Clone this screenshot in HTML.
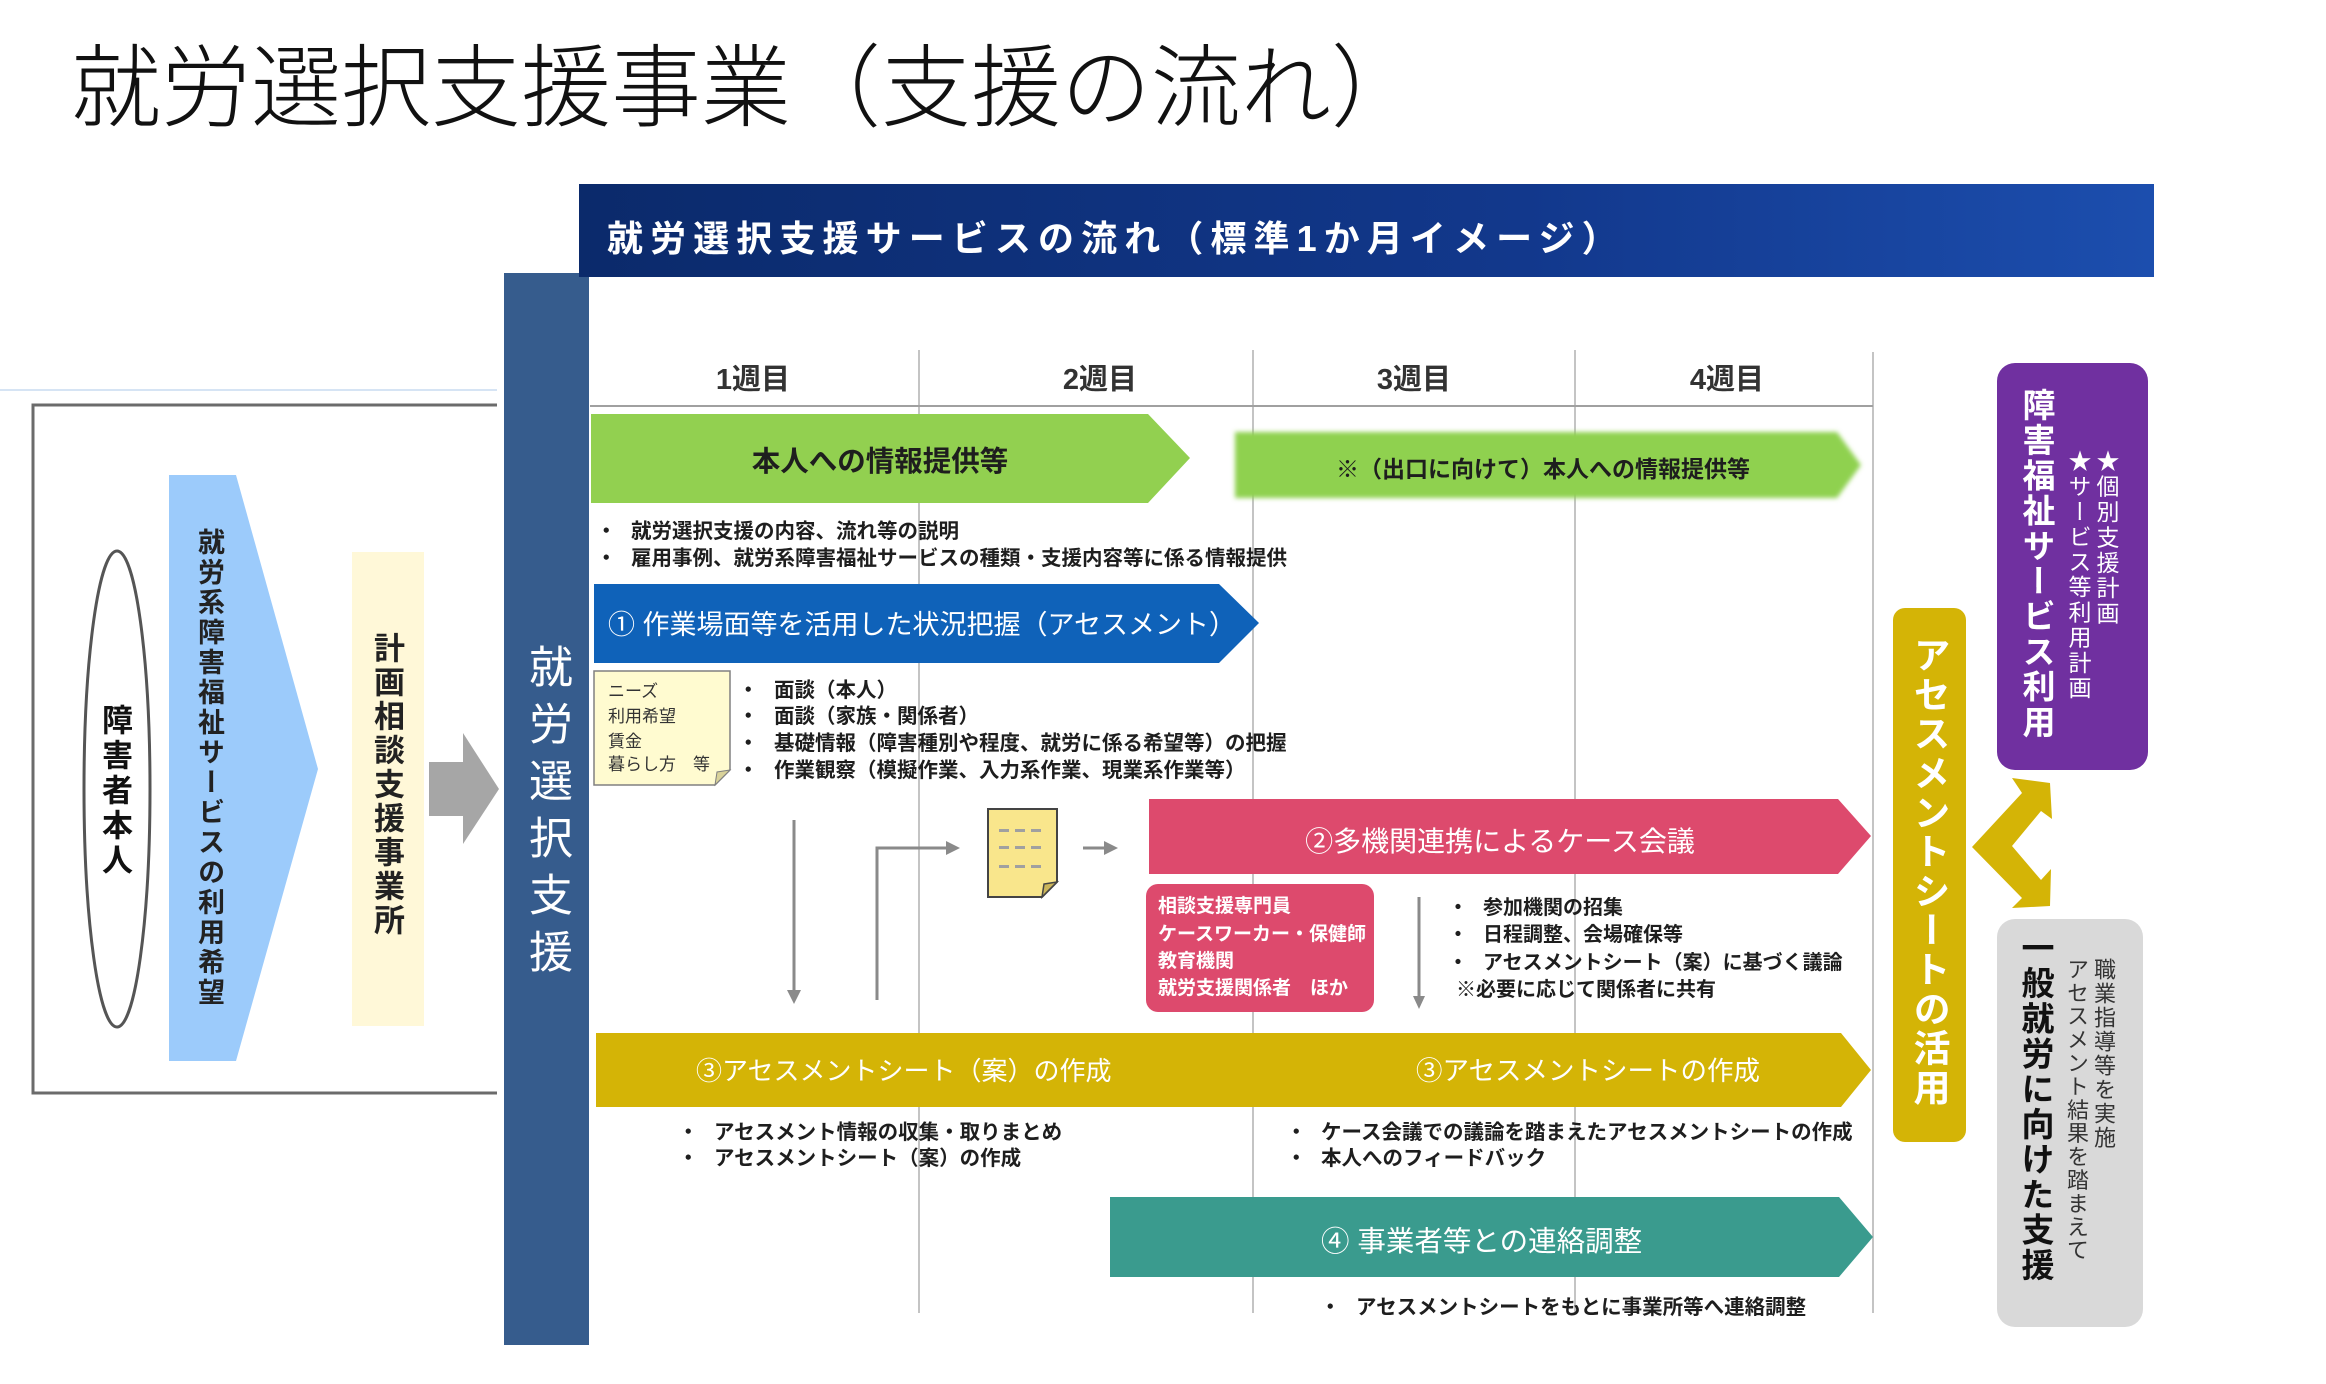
<!DOCTYPE html>
<html lang="ja">
<head>
<meta charset="utf-8">
<style>
  html,body{margin:0;padding:0;background:#fff;}
  body{width:2326px;height:1384px;position:relative;overflow:hidden;
       font-family:"Liberation Sans","Noto Sans CJK JP",sans-serif;}
  svg{position:absolute;left:0;top:0;}
  .t{position:absolute;white-space:nowrap;line-height:1;}
  .v{position:absolute;white-space:nowrap;line-height:1;writing-mode:vertical-rl;text-orientation:mixed;}
  .b{font-weight:bold;}
  .w{color:#fff;}
  .d{color:#1e1e1e;}
</style>
</head>
<body>
<svg width="2326" height="1384" viewBox="0 0 2326 1384" xmlns="http://www.w3.org/2000/svg">
  <defs>
    <linearGradient id="hdr" x1="0" y1="0" x2="1" y2="0">
      <stop offset="0" stop-color="#0b2a6b"/>
      <stop offset="0.6" stop-color="#12388c"/>
      <stop offset="1" stop-color="#1c4eae"/>
    </linearGradient>
    <filter id="blur" x="-5%" y="-30%" width="110%" height="160%">
      <feGaussianBlur stdDeviation="2.5"/>
    </filter>
  </defs>

  <!-- left section -->
  <line x1="0" y1="390" x2="497" y2="390" stroke="#d6e4f4" stroke-width="2"/>
  <polyline points="497,405 33,405 33,1093 497,1093" fill="none" stroke="#6b6b6b" stroke-width="3"/>
  <ellipse cx="117" cy="789" rx="33" ry="238" fill="#fff" stroke="#555" stroke-width="3"/>
  <polygon points="169,475 236,475 318,769 236,1061 169,1061" fill="#9ccbfb"/>
  <rect x="352" y="552" width="72" height="474" fill="#fff8d8"/>
  <polygon points="429,762 463,762 463,733 499,789 463,844 463,816 429,816" fill="#a6a6a6"/>

  <!-- left bar -->
  <rect x="504" y="273" width="85" height="1072" fill="#365c8d"/>
  <!-- header -->
  <rect x="579" y="184" width="1575" height="93" fill="url(#hdr)"/>

  <!-- grid lines -->
  <g stroke="#b0b0b0" stroke-width="1.5">
    <line x1="919" y1="350" x2="919" y2="1313"/>
    <line x1="1253" y1="350" x2="1253" y2="1313"/>
    <line x1="1575" y1="350" x2="1575" y2="1313"/>
    <line x1="1873" y1="352" x2="1873" y2="1313"/>
  </g>
  <line x1="590" y1="406" x2="1873" y2="406" stroke="#a0a0a0" stroke-width="2"/>

  <!-- green arrows -->
  <polygon points="591,414 1148,414 1190,458 1148,503 591,503" fill="#92d050"/>
  <polygon points="1235,432 1837,432 1861,465 1837,498 1235,498" fill="#8fd14f" filter="url(#blur)"/>

  <!-- blue arrow -->
  <polygon points="594,584 1219,584 1259,623 1219,663 594,663" fill="#0f62b9"/>

  <!-- note box -->
  <path d="M594,671 H730 V770 L715,785 H594 Z" fill="#fffbd0" stroke="#808080" stroke-width="1.5"/>
  <path d="M730,770 L717,772 L715,785 Z" fill="#d9d29a" stroke="#808080" stroke-width="1"/>

  <!-- connectors -->
  <g stroke="#8a8a8a" stroke-width="3" fill="none">
    <line x1="794" y1="820" x2="794" y2="992"/>
    <polyline points="877,1000 877,848 948,848"/>
    <line x1="1083" y1="848" x2="1106" y2="848"/>
    <line x1="1419" y1="897" x2="1419" y2="998"/>
  </g>
  <g fill="#8a8a8a">
    <polygon points="787,990 801,990 794,1004"/>
    <polygon points="946,841 946,855 960,848"/>
    <polygon points="1104,841 1104,855 1118,848"/>
    <polygon points="1413,996 1425,996 1419,1009"/>
  </g>

  <!-- document icon -->
  <path d="M988,809 H1057 V882 L1042,897 H988 Z" fill="#f9e68c" stroke="#444" stroke-width="2"/>
  <path d="M1057,882 L1044,884 L1042,897 Z" fill="#cbb55a" stroke="#444" stroke-width="1.5"/>
  <g fill="#a0a0a0">
    <rect x="999" y="829" width="10" height="3"/><rect x="1015" y="829" width="10" height="3"/><rect x="1031" y="829" width="10" height="3"/>
    <rect x="999" y="846" width="10" height="3"/><rect x="1015" y="846" width="10" height="3"/><rect x="1031" y="846" width="10" height="3"/>
    <rect x="999" y="865" width="10" height="3"/><rect x="1015" y="865" width="10" height="3"/><rect x="1031" y="865" width="10" height="3"/>
  </g>

  <!-- pink -->
  <polygon points="1149,799 1838,799 1871,836 1838,874 1149,874" fill="#dd4a6d"/>
  <rect x="1146" y="884" width="228" height="128" rx="12" ry="12" fill="#dd4a6d"/>

  <!-- yellow -->
  <polygon points="596,1033 1841,1033 1871,1070 1841,1107 596,1107" fill="#d4b406"/>

  <!-- teal -->
  <polygon points="1110,1197 1839,1197 1873,1237 1839,1277 1110,1277" fill="#3a9b8e"/>

  <!-- right side -->
  <rect x="1893" y="608" width="73" height="534" rx="12" ry="12" fill="#d4b406"/>
  <rect x="1997" y="363" width="151" height="407" rx="18" ry="18" fill="#7030a0"/>
  <rect x="1997" y="919" width="146" height="408" rx="18" ry="18" fill="#d9d9d9"/>
  <polygon points="1972,847 2022,793 2012,778 2050,783 2052,819 2041,811 2012,846 2041,880 2051,869 2050,906 2012,908 2022,898" fill="#d4b406"/>
</svg>

<!-- Title -->
<div class="t" style="left:71px;top:44px;font-size:90px;font-weight:300;color:#111;">就労選択支援事業（支援の流れ）</div>

<!-- Header text -->
<div class="t b w" style="left:607px;top:221px;font-size:36px;letter-spacing:7.1px;">就労選択支援サービスの流れ（標準1か月イメージ）</div>

<!-- Left vertical texts -->
<div class="v b" style="left:99px;top:704px;font-size:31px;letter-spacing:4px;color:#111;">障害者本人</div>
<div class="v b" style="left:195px;top:528px;font-size:27px;letter-spacing:3px;color:#222;">就労系障害福祉サービスの利用希望</div>
<div class="v b" style="left:371px;top:632px;font-size:31px;letter-spacing:3px;color:#222;">計画相談支援事業所</div>
<div class="v w" style="left:524px;top:644px;font-size:44px;letter-spacing:13px;">就労選択支援</div>

<!-- Week labels -->
<div class="t b" style="left:653px;top:366px;width:200px;text-align:center;font-size:29px;color:#333;">1週目</div>
<div class="t b" style="left:1000px;top:366px;width:200px;text-align:center;font-size:29px;color:#333;">2週目</div>
<div class="t b" style="left:1314px;top:366px;width:200px;text-align:center;font-size:29px;color:#333;">3週目</div>
<div class="t b" style="left:1627px;top:366px;width:200px;text-align:center;font-size:29px;color:#333;">4週目</div>

<!-- Green arrow texts -->
<div class="t b d" style="left:630px;top:448px;width:500px;text-align:center;font-size:28.5px;">本人への情報提供等</div>
<div class="t b d" style="left:1243px;top:458px;width:600px;text-align:center;font-size:23px;">※（出口に向けて）本人への情報提供等</div>

<!-- Bullets 1 -->
<div class="t b d" style="left:596px;top:522px;font-size:20.5px;">・</div>
<div class="t b d" style="left:631px;top:522px;font-size:20.5px;">就労選択支援の内容、流れ等の説明</div>
<div class="t b d" style="left:596px;top:549px;font-size:20.5px;">・</div>
<div class="t b d" style="left:631px;top:549px;font-size:20.5px;">雇用事例、就労系障害福祉サービスの種類・支援内容等に係る情報提供</div>

<!-- Blue arrow text -->
<div class="t w" style="left:608px;top:612px;font-size:27px;">① 作業場面等を活用した状況把握（アセスメント）</div>

<!-- Note box text -->
<div class="t" style="left:608px;top:683px;font-size:17px;color:#333;">ニーズ</div>
<div class="t" style="left:608px;top:708px;font-size:17px;color:#333;">利用希望</div>
<div class="t" style="left:608px;top:733px;font-size:17px;color:#333;">賃金</div>
<div class="t" style="left:608px;top:756px;font-size:17px;color:#333;">暮らし方　等</div>

<!-- Bullets 2 -->
<div class="t b d" style="left:738px;top:681px;font-size:20.5px;">・</div>
<div class="t b d" style="left:774px;top:681px;font-size:20.5px;">面談（本人）</div>
<div class="t b d" style="left:738px;top:707px;font-size:20.5px;">・</div>
<div class="t b d" style="left:774px;top:707px;font-size:20.5px;">面談（家族・関係者）</div>
<div class="t b d" style="left:738px;top:734px;font-size:20.5px;">・</div>
<div class="t b d" style="left:774px;top:734px;font-size:20.5px;">基礎情報（障害種別や程度、就労に係る希望等）の把握</div>
<div class="t b d" style="left:738px;top:761px;font-size:20.5px;">・</div>
<div class="t b d" style="left:774px;top:761px;font-size:20.5px;">作業観察（模擬作業、入力系作業、現業系作業等）</div>

<!-- Pink arrow text -->
<div class="t w" style="left:1250px;top:828px;width:500px;text-align:center;font-size:28px;">②多機関連携によるケース会議</div>

<!-- Pink box text -->
<div class="t b w" style="left:1158px;top:897px;font-size:19px;">相談支援専門員</div>
<div class="t b w" style="left:1158px;top:925px;font-size:19px;">ケースワーカー・保健師</div>
<div class="t b w" style="left:1158px;top:952px;font-size:19px;">教育機関</div>
<div class="t b w" style="left:1158px;top:979px;font-size:19px;">就労支援関係者　ほか</div>

<!-- Bullets 3 -->
<div class="t b d" style="left:1448px;top:898px;font-size:20px;">・</div>
<div class="t b d" style="left:1483px;top:898px;font-size:20px;">参加機関の招集</div>
<div class="t b d" style="left:1448px;top:925px;font-size:20px;">・</div>
<div class="t b d" style="left:1483px;top:925px;font-size:20px;">日程調整、会場確保等</div>
<div class="t b d" style="left:1448px;top:953px;font-size:20px;">・</div>
<div class="t b d" style="left:1483px;top:953px;font-size:20px;">アセスメントシート（案）に基づく議論</div>
<div class="t b d" style="left:1456px;top:980px;font-size:20px;">※必要に応じて関係者に共有</div>

<!-- Yellow arrow texts -->
<div class="t w" style="left:696px;top:1058px;font-size:26px;">③アセスメントシート（案）の作成</div>
<div class="t w" style="left:1416px;top:1058px;font-size:26.5px;">③アセスメントシートの作成</div>

<!-- Bullets 4 -->
<div class="t b d" style="left:678px;top:1123px;font-size:20.5px;">・</div>
<div class="t b d" style="left:714px;top:1123px;font-size:20.5px;">アセスメント情報の収集・取りまとめ</div>
<div class="t b d" style="left:678px;top:1149px;font-size:20.5px;">・</div>
<div class="t b d" style="left:714px;top:1149px;font-size:20.5px;">アセスメントシート（案）の作成</div>
<div class="t b d" style="left:1286px;top:1123px;font-size:20.5px;">・</div>
<div class="t b d" style="left:1321px;top:1123px;font-size:20.5px;">ケース会議での議論を踏まえたアセスメントシートの作成</div>
<div class="t b d" style="left:1286px;top:1149px;font-size:20.5px;">・</div>
<div class="t b d" style="left:1321px;top:1149px;font-size:20.5px;">本人へのフィードバック</div>

<!-- Teal arrow text -->
<div class="t w" style="left:1321px;top:1228px;font-size:28.5px;">④ 事業者等との連絡調整</div>

<!-- Bullet 5 -->
<div class="t b d" style="left:1320px;top:1298px;font-size:20.5px;">・</div>
<div class="t b d" style="left:1356px;top:1298px;font-size:20.5px;">アセスメントシートをもとに事業所等へ連絡調整</div>

<!-- Right side vertical texts -->
<div class="v b w" style="left:1910px;top:636px;font-size:37px;letter-spacing:2.3px;">アセスメントシートの活用</div>
<div class="v b w" style="left:2020px;top:388px;font-size:33px;letter-spacing:2.2px;">障害福祉サービス利用</div>
<div class="v w" style="left:2094px;top:449px;font-size:23px;letter-spacing:2.4px;">★個別支援計画</div>
<div class="v w" style="left:2066px;top:449px;font-size:23px;letter-spacing:2.2px;">★サービス等利用計画</div>
<div class="v b" style="left:2019px;top:931px;font-size:33px;letter-spacing:2.2px;color:#111;">一般就労に向けた支援</div>
<div class="v" style="left:2092px;top:958px;font-size:22px;letter-spacing:2px;color:#333;">職業指導等を実施</div>
<div class="v" style="left:2065px;top:958px;font-size:22px;letter-spacing:1.4px;color:#333;">アセスメント結果を踏まえて</div>
</body>
</html>
